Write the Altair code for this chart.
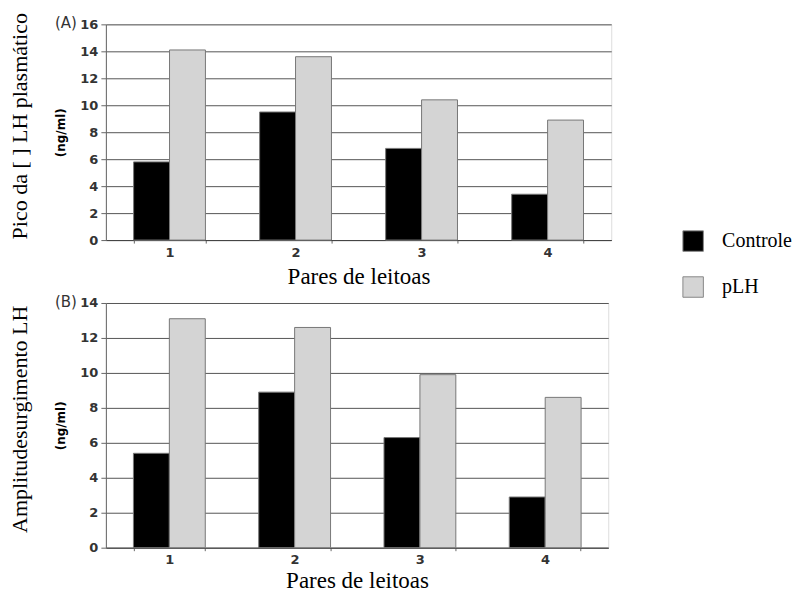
import altair as alt
import pandas as pd

pares = ["1", "2", "3", "4"]
grupos = ["Controle", "pLH"]
pico_controle = [5.8, 9.5, 6.8, 3.4]
pico_plh = [14.1, 13.6, 10.4, 8.9]
amp_controle = [5.4, 8.9, 6.3, 2.9]
amp_plh = [13.1, 12.6, 9.9, 8.6]

def make_df(ctrl, plh):
    rows = []
    for p, c, l in zip(pares, ctrl, plh):
        rows.append({"Par": p, "Grupo": "Controle", "v": c})
        rows.append({"Par": p, "Grupo": "pLH", "v": l})
    return pd.DataFrame(rows)

SERIF = "Liberation Serif"
SANS = "DejaVu Sans"

color_scale = alt.Scale(domain=grupos, range=["#000000", "#d4d4d4"])

def panel(df, ymax, w, h, ytitle, letter, show_legend, xtpad):
    legend = alt.Legend(
        title=None, orient="none", legendX=577, legendY=206,
        symbolType="square", symbolSize=420, symbolStrokeColor="#888",
        symbolStrokeWidth=1, labelFont=SERIF, labelFontSize=20,
        labelColor="#000", rowPadding=20, labelOffset=18, padding=0,
    ) if show_legend else None
    bars = alt.Chart(df).mark_bar(stroke="#777", strokeWidth=1).encode(
        x=alt.X("Par:N", sort=pares,
                scale=alt.Scale(paddingInner=0.43, paddingOuter=0.22),
                axis=alt.Axis(title="Pares de leitoas", labelAngle=0,
                              labelFont=SANS, labelFontWeight="bold",
                              labelFontSize=13, labelColor="#333",
                              titleFont=SERIF, titleFontSize=23,
                              titleFontWeight="normal", titleColor="#000",
                              titlePadding=xtpad, tickBand="extent", tickSize=3,
                              tickColor="#666", domainColor="#444",
                              labelPadding=3)),
        xOffset=alt.XOffset("Grupo:N", sort=grupos, scale=alt.Scale(padding=0)),
        y=alt.Y("v:Q", scale=alt.Scale(domain=[0, ymax], nice=False),
                axis=alt.Axis(title="(ng/ml)", values=list(range(0, ymax + 1, 2)),
                              labelFont=SANS, labelFontWeight="bold",
                              labelFontSize=13, labelColor="#333",
                              titleFont=SANS, titleFontSize=12,
                              titleFontWeight="bold", titleColor="#000",
                              titlePadding=12, tickSize=5, tickColor="#666",
                              domainColor="#666", gridColor="#555",
                              gridWidth=1, labelPadding=3)),
        color=alt.Color("Grupo:N", scale=color_scale, legend=legend),
    )
    tdf = pd.DataFrame({"t": [ytitle]})
    ttl = alt.Chart(tdf).mark_text(
        angle=270, font=SERIF, fontSize=22, color="#000", baseline="middle",
        align="center").encode(
        text="t:N", x=alt.value(-86), y=alt.value(h / 2 - 6))
    ldf = pd.DataFrame({"t": [letter]})
    lab = alt.Chart(ldf).mark_text(
        font=SANS, fontSize=15, color="#333", baseline="middle",
        align="right").encode(
        text="t:N", x=alt.value(-29), y=alt.value(-1))
    return alt.layer(bars, ttl, lab).properties(width=w, height=h)

top = panel(make_df(pico_controle, pico_plh), 16, 506, 216,
            "Pico da [ ] LH plasmático", "(A)", True, 6)
bottom = panel(make_df(amp_controle, amp_plh), 14, 503, 245,
               "Amplitudesurgimento LH", "(B)", False, 3)

chart = alt.vconcat(top, bottom, spacing=63, bounds="flush").resolve_legend(
    color="independent"
).properties(
    padding={"left": 0, "top": 4, "right": 5, "bottom": 0}
).configure_view(stroke="#666", strokeWidth=1).configure_legend(
    labelFont=SERIF, labelFontSize=20, labelColor="#000"
).configure(background="white")

chart.save("out.html", embed_options={"renderer": "svg", "actions": False})
